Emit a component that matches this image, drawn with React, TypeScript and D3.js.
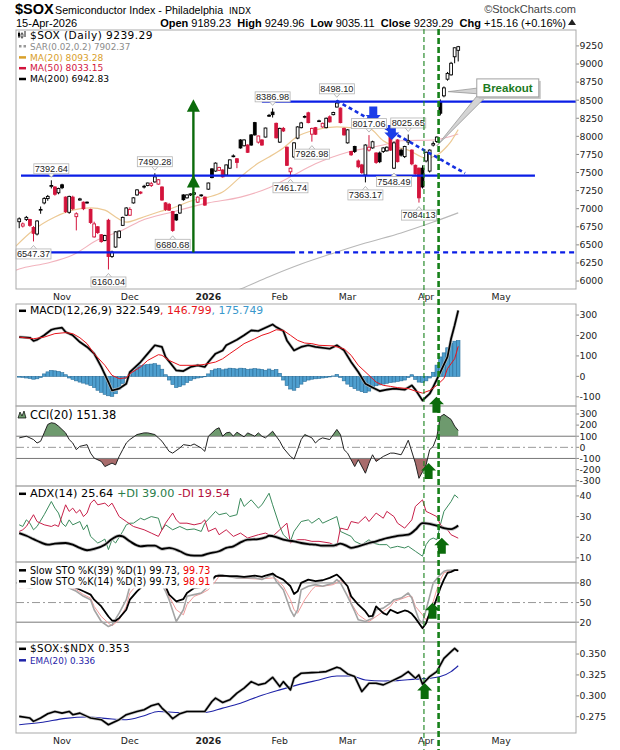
import React, { useEffect, useRef } from "react";
import * as d3 from "d3";

type Pt = [number, number];

// bar 0 = 3-Nov-2025, negative bars are the last days of October
const firstBar = -12;

// daily candles: [open, high, low, close]
const ohlc: [number, number, number, number][] = [
  [6820, 6880, 6730, 6860], [6760, 6810, 6740, 6790], [6850, 6900, 6830, 6880], [6850, 6860, 6750, 6770],
  [6740, 6760, 6547.37, 6660], [6650, 6840, 6630, 6830], [6980, 7030, 6930, 6990], [7080, 7160, 7060, 7140],
  [7140, 7190, 7110, 7170], [7310, 7392.64, 7280, 7320], [7300, 7310, 7180, 7200], [7220, 7290, 7200, 7280],
  [7330, 7345, 7270, 7290], [7160, 7170, 6940, 6960], [6950, 7180, 6930, 7170], [7160, 7180, 6980, 7000],
  [6890, 6950, 6700, 6930], [7120, 7150, 7110, 7135], [7090, 7100, 6980, 7000], [7080, 7100, 7070, 7090],
  [6990, 7000, 6790, 6810], [6610, 6820, 6600, 6790], [6750, 6760, 6650, 6670], [6640, 6650, 6530, 6545],
  [6560, 6640, 6550, 6630], [6840, 6860, 6160.04, 6340], [6340, 6420, 6320, 6400], [6470, 6690, 6460, 6680],
  [6600, 6700, 6590, 6690], [6770, 6890, 6760, 6880], [6910, 7020, 6900, 7010], [6910, 7020, 6900, 6990],
  [7080, 7160, 7070, 7150], [7190, 7270, 7180, 7260], [7230, 7240, 7200, 7215], [7300, 7330, 7280, 7310],
  [7320, 7360, 7310, 7355], [7320, 7370, 7300, 7345], [7370, 7490.28, 7360, 7440], [7340, 7410, 7330, 7400],
  [7300, 7310, 7110, 7120], [7080, 7090, 6970, 6990], [7060, 7080, 6970, 6980], [6960, 6970, 6680.68, 6700],
  [6920, 6930, 6830, 6845], [6940, 7060, 6930, 7050], [7190, 7200, 7110, 7125], [7150, 7200, 7140, 7190],
  [7190, 7215, 7175, 7205], [7200, 7230, 7190, 7220], [7090, 7170, 7080, 7160], [7180, 7200, 7165, 7190],
  [7160, 7170, 7040, 7050], [7270, 7360, 7260, 7355], [7550, 7560, 7420, 7430], [7520, 7640, 7510, 7630],
  [7530, 7580, 7520, 7570], [7535, 7545, 7430, 7440], [7465, 7610, 7460, 7605], [7560, 7680, 7550, 7675],
  [7720, 7750, 7710, 7730], [7690, 7700, 7560, 7640], [7950, 7960, 7830, 7840], [7870, 7960, 7860, 7950],
  [7880, 7890, 7770, 7780], [8020, 8030, 7870, 7880], [8190, 8200, 8010, 8020], [7920, 8010, 7900, 8005],
  [7950, 7960, 7870, 7880], [7990, 8120, 7985, 8115], [8290, 8310, 8270, 8285], [8335, 8386.98, 8260, 8300],
  [8180, 8190, 7970, 7980], [7920, 8120, 7910, 8110], [8110, 8130, 8060, 8075], [7850, 7860, 7590, 7600],
  [7510, 7570, 7461.74, 7560], [7715, 7920, 7700, 7910], [7975, 8140, 7960, 8130], [8120, 8200, 8110, 8185],
  [8270, 8290, 8250, 8275], [8325, 8340, 8180, 8190], [8030, 8120, 7926.98, 8110], [8120, 8130, 8020, 8030],
  [8210, 8230, 8200, 8215], [8130, 8190, 8120, 8180], [8120, 8260, 8110, 8250], [8270, 8290, 8190, 8200],
  [8300, 8340, 8290, 8330], [8405, 8498.1, 8400, 8460], [8390, 8400, 8180, 8190], [8110, 8120, 8010, 8020],
  [7910, 8100, 7900, 8090], [7790, 7800, 7730, 7745], [7860, 7870, 7770, 7790], [7660, 7680, 7560, 7580],
  [7605, 7620, 7480, 7500], [7465, 7890, 7363.17, 7880], [7810, 8017.06, 7790, 7850], [7840, 7940, 7830, 7925],
  [7770, 7780, 7620, 7640], [7770, 7790, 7630, 7650], [7790, 7850, 7770, 7840], [7800, 7860, 7790, 7850],
  [8010, 8020, 7800, 7810], [7560, 7930, 7548.49, 7910], [7950, 7960, 7640, 7650], [7810, 7830, 7720, 7740],
  [7720, 7870, 7700, 7860], [7920, 8025.65, 7880, 7940], [7810, 7820, 7600, 7620], [7600, 7610, 7470, 7480],
  [7560, 7570, 7084.13, 7150], [7560, 7600, 7280, 7300], [7660, 7790, 7640, 7780], [7520, 7820, 7500, 7810],
  [7880, 7930, 7860, 7900], [7930, 8000, 7910, 7990], [8480, 8510, 8290, 8320], [8560, 8690, 8540, 8670],
  [8790, 8890, 8770, 8870], [8850, 9030, 8840, 9010], [9100, 9230, 9010, 9224.13],
  [9189.23, 9249.96, 9035.11, 9239.29],
];

const sarValue = 7902.37;

// moving averages, [bar, value]
const ma20: Pt[] = [
  [-13, 6480], [-8, 6705], [-2, 6885], [3, 6980], [8, 7010], [12, 6980], [15, 6885], [18, 6815], [22, 6870],
  [27, 6955], [31, 7010], [37, 7120], [41, 7160], [45, 7230], [50, 7440], [55, 7630], [58, 7715], [62, 7840],
  [66, 8000], [71, 8090], [77, 8130], [81, 8120], [86, 8110], [90, 7940], [94, 7850], [97, 7810], [102, 7700],
  [105, 7740], [108, 7870], [109, 7930], [110, 8010], [111, 8093.28],
];
const ma50: Pt[] = [
  [-13, 6150], [-11, 6180], [-4, 6250], [3, 6360], [10, 6570], [17, 6705], [22, 6830], [31, 6955], [41, 7080],
  [50, 7160], [58, 7290], [64, 7440], [71, 7620], [80, 7780], [90, 7880], [95, 7940], [104, 7950], [111, 8033.15],
];
const ma200: Pt[] = [
  [48, 5850], [50, 5890], [58, 6060], [67, 6235], [76, 6385], [85, 6525], [95, 6665], [104, 6815], [111, 6942.83],
];

// MACD(12,26,9)
const macdLine: Pt[] = [
  [-12, 192], [-9, 189], [-8, 173], [-7, 179], [-5, 201], [-3, 228], [-2, 233], [0, 238], [1, 217], [3, 201],
  [5, 168], [7, 144], [9, 111], [11, 46], [13, -28], [14, -69], [16, -60], [18, -36], [19, 21], [22, 70],
  [24, 111], [26, 152], [28, 144], [29, 95], [32, 29], [34, 26], [36, 46], [38, 54], [40, 46], [41, 70],
  [43, 111], [45, 127], [46, 152], [49, 179], [51, 201], [53, 225], [55, 222], [57, 238], [59, 254], [60, 241],
  [62, 222], [63, 176], [65, 127], [67, 144], [69, 152], [71, 144], [75, 135], [77, 152], [79, 127], [81, 70],
  [83, 21], [85, -36], [87, -55], [89, -72], [91, -65], [93, -60], [96, -65], [98, -44], [99, -65], [101, -118],
  [103, -85], [104, -52], [106, 21], [108, 95], [109, 184], [110, 250], [111, 322.549],
];
const macdSignal: Pt[] = [
  [-12, 192], [-8, 184], [-5, 192], [-2, 209], [1, 214], [3, 209], [5, 189], [7, 160], [9, 111], [12, 54],
  [14, 5], [16, -11], [18, -7], [19, 13], [22, 46], [24, 78], [27, 106], [28, 103], [30, 78], [33, 54],
  [35, 54], [38, 54], [40, 59], [43, 70], [45, 86], [47, 111], [49, 135], [51, 160], [54, 184], [56, 201],
  [58, 212], [60, 228], [62, 225], [64, 201], [66, 176], [68, 163], [70, 160], [72, 152], [76, 149], [79, 135],
  [81, 103], [83, 54], [86, 5], [88, -28], [90, -44], [92, -49], [94, -55], [97, -60], [99, -72], [101, -82],
  [103, -69], [105, -44], [107, -11], [108, 38], [110, 86], [111, 146.799],
];
const macdHist: number[] = [
  -4, -5, -8, -10, -14, -12, -6, 12, 22, 29, 27, 24, 18, 8, -8, -15, -22, -28, -33, -38, -45, -55, -68, -78,
  -88, -95, -98, -85, -62, -35, -10, 10, 28, 45, 52, 56, 58, 60, 62, 55, 35, 8, -18, -40, -55, -50, -42, -30,
  -20, -12, -8, -5, -2, 12, 28, 36, 38, 32, 36, 40, 38, 36, 40, 38, 34, 36, 38, 36, 34, 30, 36, 30, 34, 15,
  -18, -45, -62, -68, -55, -38, -25, -18, -14, -12, -10, -8, -6, -3, 2, 10, -5, -22, -38, -50, -60, -68,
  -75, -80, -72, -58, -46, -42, -38, -34, -30, -28, -25, -22, -18, -6, 8, -15, -28, -30, -22, -8, 20, 55,
  95, 115, 140, 160, 172, 175.749,
];

// CCI(20)
const cci: Pt[] = [
  [-12, 85], [-10, 100], [-9, 85], [-8, 70], [-7, 39], [-6, 55], [-5, 130], [-4, 206], [-3, 221], [-2, 215],
  [-1, 191], [1, 130], [2, 70], [3, 39], [4, -21], [5, 9], [7, 24], [8, -52], [9, -97], [11, -127], [12, -173],
  [14, -142], [15, -158], [16, -82], [17, -21], [18, 39], [19, 70], [21, 115], [23, 130], [24, 130], [26, 115],
  [27, 85], [28, 55], [29, 9], [30, -36], [31, -52], [33, -6], [34, 24], [36, 15], [37, 30], [39, -6], [40, -36],
  [41, 100], [43, 161], [44, 176], [45, 100], [46, 130], [47, 136], [48, 100], [49, 136], [51, 94], [52, 130],
  [54, 100], [55, 130], [56, 100], [57, 85], [59, 145], [60, 100], [61, 55], [62, -6], [64, -82], [65, -106],
  [66, -21], [67, 70], [68, 115], [70, 85], [71, 39], [72, 70], [73, 85], [75, 70], [77, 161], [78, 115],
  [79, -21], [80, -52], [82, -173], [83, -112], [85, -233], [86, -142], [87, -67], [88, -127], [90, -82],
  [92, -52], [93, -52], [95, -67], [96, -6], [97, 64], [99, -142], [100, -279], [101, -220], [102, -158],
  [103, -21], [104, 9], [105, 94], [106, 276], [107, 297], [109, 251], [110, 191], [111, 151.38],
];

// ADX(14), +DI, -DI
const adx: Pt[] = [
  [-12, 22.0], [-10, 20.7], [-8, 19.1], [-6, 17.5], [-4, 16.4], [-2, 16.9], [1, 17.2], [3, 16.4], [5, 14.8],
  [7, 13.7], [9, 14.3], [12, 16.4], [14, 19.1], [16, 20.7], [17, 20.4], [19, 18.0], [22, 15.6], [24, 15.9],
  [26, 15.9], [28, 14.3], [30, 14.8], [33, 13.2], [35, 11.6], [37, 11.1], [39, 11.1], [41, 12.1], [44, 13.2],
  [46, 14.8], [48, 15.6], [50, 17.5], [52, 18.8], [55, 19.1], [57, 19.9], [58, 20.7], [60, 20.1], [62, 18.8],
  [65, 18.0], [67, 17.2], [69, 16.7], [71, 16.4], [73, 15.9], [76, 15.9], [78, 16.9], [80, 15.6], [81, 14.8],
  [83, 15.6], [86, 17.2], [88, 18.0], [90, 19.1], [92, 19.9], [94, 20.7], [97, 21.2], [99, 23.6], [101, 26.8],
  [103, 26.5], [105, 25.6], [107, 24.4], [109, 23.9], [111, 25.64],
];
const plusDI: Pt[] = [
  [-12, 26.0], [-11, 25.2], [-10, 28.4], [-9, 26.8], [-8, 23.6], [-7, 25.2], [-5, 30.9], [-3, 37.3], [-2, 34.1],
  [-1, 31.7], [0, 26.8], [1, 25.2], [2, 28.4], [3, 26.0], [5, 27.6], [6, 23.6], [7, 26.0], [8, 20.4], [10, 17.2],
  [11, 18.0], [12, 19.1], [13, 14.0], [14, 18.8], [15, 17.2], [17, 22.8], [18, 26.0], [19, 26.8], [20, 26.8],
  [22, 29.2], [23, 28.4], [25, 30.0], [27, 29.2], [28, 23.6], [29, 26.0], [31, 23.6], [33, 25.2], [35, 23.6],
  [37, 24.0], [39, 22.8], [40, 26.8], [43, 32.5], [44, 30.9], [46, 31.7], [47, 30.0], [49, 30.9], [50, 38.9],
  [51, 34.9], [53, 38.1], [55, 34.1], [56, 35.7], [58, 41.3], [59, 35.7], [61, 25.2], [62, 21.2], [64, 18.0],
  [65, 22.8], [67, 27.6], [69, 28.4], [70, 26.8], [72, 29.2], [73, 26.8], [75, 28.4], [77, 30.0], [78, 22.8],
  [79, 22.0], [81, 20.4], [82, 18.0], [84, 16.4], [86, 18.8], [87, 17.2], [89, 16.4], [91, 16.4], [92, 14.8],
  [94, 15.6], [96, 14.8], [97, 15.6], [99, 13.2], [101, 10.8], [102, 16.4], [103, 18.8], [104, 19.6], [105, 18.8],
  [106, 26.0], [107, 32.5], [109, 37.3], [110, 40.5], [111, 39.0],
];
const minusDI: Pt[] = [
  [-12, 22.8], [-11, 23.6], [-10, 25.2], [-8, 30.9], [-7, 27.6], [-5, 26.0], [-3, 25.2], [-2, 26.0], [-1, 25.2],
  [1, 35.7], [2, 32.5], [3, 34.1], [4, 31.7], [5, 33.3], [6, 30.0], [7, 31.7], [8, 36.5], [9, 38.1], [10, 35.7],
  [12, 36.5], [13, 34.9], [14, 36.5], [15, 33.3], [16, 30.0], [18, 27.6], [20, 25.2], [23, 23.6], [25, 22.0],
  [27, 20.4], [29, 26.8], [31, 31.7], [32, 28.4], [33, 26.8], [35, 26.8], [37, 26.0], [39, 26.8], [40, 28.4],
  [41, 22.8], [43, 24.4], [44, 21.2], [46, 23.6], [48, 20.4], [50, 22.0], [52, 19.6], [55, 21.2], [57, 22.0],
  [59, 20.4], [61, 23.6], [63, 26.8], [64, 17.2], [66, 18.8], [68, 18.8], [70, 18.0], [72, 18.0], [75, 17.2],
  [77, 15.6], [78, 24.4], [80, 23.6], [81, 27.6], [83, 26.8], [85, 30.0], [86, 27.6], [88, 31.7], [90, 29.2],
  [91, 32.5], [93, 30.0], [94, 26.8], [96, 24.4], [98, 28.4], [99, 34.9], [101, 38.1], [102, 32.5], [103, 31.7],
  [105, 30.0], [106, 26.0], [108, 23.6], [109, 21.2], [111, 19.54],
];

// Slow stochastics
const sto39: Pt[] = [
  [-12, 85.1], [-6, 87.7], [-1, 85.1], [2, 77.4], [4, 72.3], [6, 67.2], [8, 62.1], [9, 54.4], [11, 44.1],
  [13, 28.7], [14, 22.6], [15, 22.1], [16, 26.2], [18, 39.0], [19, 54.4], [21, 67.2], [23, 77.4], [25, 85.1],
  [27, 87.7], [29, 74.9], [30, 62.1], [32, 51.8], [34, 55.4], [35, 64.6], [37, 72.3], [39, 73.8], [40, 75.9],
  [41, 81.0], [43, 90.3], [45, 91.3], [47, 90.3], [49, 90.3], [51, 89.2], [54, 91.3], [56, 89.2], [57, 91.3],
  [59, 94.4], [60, 90.3], [62, 85.1], [64, 74.9], [65, 63.1], [66, 67.2], [67, 80.0], [69, 85.1], [71, 82.6],
  [73, 84.1], [75, 87.7], [77, 92.8], [78, 87.7], [80, 74.9], [81, 59.5], [83, 46.7], [85, 36.4], [86, 28.7],
  [87, 29.7], [88, 44.1], [90, 33.8], [91, 31.3], [92, 39.0], [94, 33.8], [96, 37.9], [97, 36.4], [98, 32.8],
  [99, 26.2], [101, 10.8], [102, 18.5], [103, 33.8], [104, 41.5], [105, 56.9], [106, 72.3], [107, 85.1],
  [108, 95.4], [109, 96.9], [110, 99.5], [111, 99.73],
];
const sto14K: Pt[] = [
  [-12, 74.9], [-9, 72.3], [-7, 74.9], [-5, 85.1], [-3, 87.7], [-1, 82.6], [2, 72.3], [4, 67.2], [6, 59.5],
  [8, 54.4], [9, 39.0], [11, 21.0], [13, 13.3], [14, 15.9], [16, 33.8], [18, 54.4], [19, 74.9], [21, 87.7],
  [24, 92.8], [27, 87.7], [29, 67.2], [30, 54.4], [32, 21.0], [34, 39.0], [35, 59.5], [37, 62.1], [39, 64.6],
  [41, 74.9], [43, 90.3], [44, 92.8], [46, 90.3], [49, 87.7], [51, 87.7], [54, 87.7], [56, 85.1], [57, 87.7],
  [59, 92.8], [60, 82.6], [62, 69.7], [64, 39.0], [65, 28.7], [66, 39.0], [67, 69.7], [69, 74.9], [71, 77.4],
  [73, 74.9], [76, 80.0], [77, 85.1], [78, 80.0], [80, 59.5], [82, 36.4], [83, 23.6], [85, 21.0], [87, 26.2],
  [88, 39.0], [90, 41.5], [92, 49.2], [93, 54.4], [95, 56.9], [97, 64.6], [98, 56.9], [99, 39.0], [100, 23.6],
  [101, 18.5], [102, 39.0], [103, 59.5], [104, 80.0], [106, 92.8], [107, 97.9], [108, 99.5], [111, 99.73],
];
const sto14D: Pt[] = [
  [-12, 72.3], [-8, 73.8], [-5, 80.0], [-1, 81.0], [2, 74.9], [4, 69.7], [6, 62.1], [8, 56.9], [9, 44.1],
  [11, 28.7], [13, 18.5], [14, 14.4], [16, 23.6], [18, 44.1], [19, 64.6], [21, 77.4], [24, 87.7], [27, 87.7],
  [29, 72.3], [30, 59.5], [32, 39.0], [34, 31.3], [35, 46.7], [37, 59.5], [39, 63.6], [41, 69.7], [43, 82.6],
  [44, 90.3], [46, 90.3], [49, 87.7], [54, 86.2], [56, 86.2], [59, 87.7], [60, 86.2], [62, 74.9], [64, 54.4],
  [65, 39.0], [66, 33.8], [68, 54.4], [70, 69.7], [71, 74.9], [73, 74.9], [76, 77.4], [78, 84.1], [80, 74.9],
  [81, 49.2], [83, 31.3], [85, 23.6], [86, 21.0], [88, 28.7], [90, 36.4], [92, 44.1], [93, 51.8], [95, 55.4],
  [97, 59.5], [98, 59.5], [99, 44.1], [101, 31.3], [102, 23.6], [103, 33.8], [104, 51.8], [105, 69.7],
  [106, 85.1], [107, 95.4], [109, 99.0], [111, 98.91],
];

// $SOX:$NDX ratio and its EMA(20)
const ratio: Pt[] = [
  [-12, 0.2754], [-9, 0.2734], [-8, 0.2694], [-6, 0.2734], [-4, 0.2786], [-2, 0.2813], [0, 0.2793], [2, 0.2813],
  [3, 0.2774], [5, 0.2793], [7, 0.2754], [8, 0.2734], [11, 0.2714], [13, 0.2654], [14, 0.2674], [16, 0.2714],
  [18, 0.2774], [21, 0.2813], [23, 0.2833], [25, 0.2881], [27, 0.2905], [28, 0.2853], [30, 0.2774], [31, 0.2726],
  [33, 0.2786], [35, 0.2813], [37, 0.2813], [40, 0.2813], [42, 0.2932], [43, 0.2972], [45, 0.292], [47, 0.2952],
  [49, 0.3032], [51, 0.3091], [53, 0.317], [55, 0.3131], [57, 0.3151], [59, 0.3222], [61, 0.3111], [62, 0.317],
  [64, 0.3071], [65, 0.321], [67, 0.327], [70, 0.3278], [72, 0.3282], [74, 0.329], [77, 0.3341], [78, 0.3329],
  [80, 0.3262], [82, 0.323], [84, 0.3051], [86, 0.3151], [88, 0.3151], [90, 0.3131], [92, 0.317], [94, 0.321],
  [95, 0.323], [97, 0.329], [99, 0.321], [100, 0.325], [101, 0.314], [103, 0.323], [105, 0.329], [106, 0.3369],
  [107, 0.3448], [109, 0.3528], [110, 0.3567], [111, 0.353],
];
const ratioEma: Pt[] = [
  [-12, 0.2654], [-6, 0.268], [1, 0.273], [7, 0.2746], [14, 0.2722], [18, 0.2714], [23, 0.2762], [27, 0.2813],
  [33, 0.28], [40, 0.28], [45, 0.2853], [50, 0.2912], [55, 0.2992], [61, 0.3071], [66, 0.3131], [72, 0.319],
  [77, 0.3238], [81, 0.3238], [85, 0.319], [90, 0.3178], [94, 0.3182], [99, 0.32], [103, 0.321], [106, 0.323],
  [109, 0.329], [111, 0.336],
];

// x axis
const monthNames = ["Nov", "Dec", "2026", "Feb", "Mar", "Apr", "May"];
const monthBars = [0, 19, 41, 61, 80, 102, 123];

// y axis tick labels
const priceTicks = [6000, 6250, 6500, 6750, 7000, 7250, 7500, 7750, 8000, 8250, 8500, 8750, 9000, 9250];
const macdTicks = [-100, 0, 100, 200, 300];
const cciTicks = [-300, -200, -100, 0, 100, 200, 300];
const adxTicks = [10, 20, 30, 40];
const stoTicks = [20, 50, 80];
const ratioTicks = [0.275, 0.3, 0.325, 0.35];

// swing high / low call-outs
const swingLabels = [
  { bar: -3, value: 7392.64, side: "high" },
  { bar: 26, value: 7490.28, side: "high" },
  { bar: 59, value: 8386.98, side: "high" },
  { bar: 77, value: 8498.1, side: "high" },
  { bar: 86, value: 8017.06, side: "high" },
  { bar: 97, value: 8025.65, side: "high" },
  { bar: -8, value: 6547.37, side: "low" },
  { bar: 13, value: 6160.04, side: "low" },
  { bar: 31, value: 6680.68, side: "low" },
  { bar: 64, value: 7461.74, side: "low" },
  { bar: 70, value: 7926.98, side: "low" },
  { bar: 85, value: 7363.17, side: "low" },
  { bar: 93, value: 7548.49, side: "low" },
  { bar: 100, value: 7084.13, side: "low" },
];

// hand drawn annotations, in bar / price units
const levelLines = [
  { value: 8480, from: 56, to: 144, dashed: false },
  { value: 7457, from: -11.5, to: 132.5, dashed: false },
  { value: 6396, from: -13, to: 63.9, dashed: false },
  { value: 6396, from: 63.9, to: 144, dashed: true },
];
const trendLine: Pt[] = [[76.9, 8494], [112.9, 7490]];
const blueArrows = [
  { bar: 87.2, top: 8411, tip: 8182 },
  { bar: 92.4, top: 8158, tip: 7951 },
];
const moveArrow = { bar: 36.8, base: 6396, mid: 7467, tip: 8513 };
const signalBars = [101.4, 105.5];
const breakoutBox = { bar: 116.2, value: 8794 };
const breakoutTips: Pt[] = [[108.2, 8618], [105, 7868]];

const LEFT = 16;
const RIGHT = 576;
const RED = "#d3143c";
const GREEN = "#0b6b0b";
const BLUE = "#0a1ee6";
const FONT = "DejaVu Sans, Verdana, sans-serif";
const ARIAL = "Liberation Sans, Arial, sans-serif";

const App = () => {
  const ref: any = useRef();

  useEffect(() => {
    document.body.style.margin = "0";
    const svg = d3.select(ref.current);
    svg.selectAll("*").remove();
    const defs = svg.append("defs");

    const x = d3.scaleLinear().domain([-12.9, 144]).range([LEFT, RIGHT]);

    const makePanel = (id: string, top: number, bottom: number, domain: number[]) => {
      const y = d3.scaleLinear().domain(domain).range([bottom, top]);
      defs
        .append("clipPath")
        .attr("id", `clip-${id}`)
        .append("rect")
        .attr("x", LEFT)
        .attr("y", top)
        .attr("width", RIGHT - LEFT)
        .attr("height", bottom - top);
      const g = svg.append("g");
      const plot = g.append("g").attr("clip-path", `url(#clip-${id})`);
      return { y, g, plot, top, bottom };
    };

    const line = (y: any, curve: any = d3.curveLinear) =>
      d3
        .line<Pt>()
        .x((d) => x(d[0]))
        .y((d) => y(d[1]))
        .curve(curve);

    const drawLine = (g: any, data: Pt[], y: any, color: string, width: number, curve?: any) =>
      g
        .append("path")
        .datum(data)
        .attr("d", line(y, curve))
        .attr("fill", "none")
        .attr("stroke", color)
        .attr("stroke-width", width)
        .attr("stroke-linejoin", "round");

    const yTicks = (p: any, ticks: number[], fmt: (v: number) => string) => {
      ticks.forEach((t) => {
        p.g
          .append("line")
          .attr("x1", RIGHT)
          .attr("x2", RIGHT + 3)
          .attr("y1", p.y(t))
          .attr("y2", p.y(t))
          .attr("stroke", "#888");
        p.g
          .append("text")
          .attr("x", RIGHT + 3.5)
          .attr("y", p.y(t))
          .attr("dy", "0.36em")
          .attr("font-family", FONT)
          .attr("font-size", 9.3)
          .attr("fill", "#222")
          .text(fmt(t));
      });
    };

    const border = (p: any) =>
      p.g
        .append("rect")
        .attr("x", LEFT)
        .attr("y", p.top)
        .attr("width", RIGHT - LEFT)
        .attr("height", p.bottom - p.top)
        .attr("fill", "none")
        .attr("stroke", "#a9a9a9");

    // legend row: parts of [text, color]
    const legend = (g: any, yBase: number, parts: [string, string][], icon?: string, size = 11, spacing = 0) => {
      const row = g.append("g");
      if (icon) {
        row
          .append("line")
          .attr("x1", 19)
          .attr("x2", 26)
          .attr("y1", yBase - 3.2)
          .attr("y2", yBase - 3.2)
          .attr("stroke", icon)
          .attr("stroke-width", 2.5);
      }
      const t = row
        .append("text")
        .attr("x", 30)
        .attr("y", yBase)
        .attr("font-family", FONT)
        .attr("font-size", size)
        .attr("letter-spacing", spacing)
        .style("white-space", "pre");
      parts.forEach(([s, c]) => t.append("tspan").attr("fill", c).text(s));
      return row;
    };

    const upArrow = (g: any, cx: number, tipY: number) => {
      g.append("path")
        .attr(
          "d",
          `M${cx},${tipY} L${cx + 7.5},${tipY + 7.5} L${cx + 4},${tipY + 7.5} L${cx + 4},${tipY + 16} ` +
            `L${cx - 4},${tipY + 16} L${cx - 4},${tipY + 7.5} L${cx - 7.5},${tipY + 7.5} Z`
        )
        .attr("fill", GREEN);
    };

    const last = ohlc[ohlc.length - 1];
    const prevClose = ohlc[ohlc.length - 2][3];
    const chg = last[3] - prevClose;

    // ---------- header ----------
    svg
      .append("text")
      .attr("x", 15)
      .attr("y", 14)
      .attr("font-family", ARIAL)
      .attr("font-weight", "bold")
      .attr("font-size", 14.5)
      .text("$SOX");
    svg
      .append("text")
      .attr("x", 55)
      .attr("y", 14)
      .attr("font-family", ARIAL)
      .attr("font-size", 10.7)
      .text("Semiconductor Index - Philadelphia");
    svg
      .append("text")
      .attr("x", 229)
      .attr("y", 14)
      .attr("font-family", FONT)
      .attr("font-size", 8.8)
      .text("INDX");
    svg
      .append("text")
      .attr("x", RIGHT)
      .attr("y", 13)
      .attr("text-anchor", "end")
      .attr("font-family", ARIAL)
      .attr("font-size", 11)
      .attr("fill", "#444")
      .text("\u00a9StockCharts.com");
    svg
      .append("text")
      .attr("x", 16)
      .attr("y", 26.5)
      .attr("font-family", ARIAL)
      .attr("font-size", 11)
      .text("15-Apr-2026");
    const quote = svg
      .append("text")
      .attr("x", 566)
      .attr("y", 26.5)
      .attr("text-anchor", "end")
      .attr("font-family", ARIAL)
      .attr("font-size", 11)
      .style("white-space", "pre");
    const quoteParts: [string, boolean][] = [
      ["Open ", true],
      [`${last[0].toFixed(2)}  `, false],
      ["High ", true],
      [`${last[1].toFixed(2)}  `, false],
      ["Low ", true],
      [`${last[2].toFixed(2)}  `, false],
      ["Close ", true],
      [`${last[3].toFixed(2)}  `, false],
      ["Chg ", true],
      [`+${chg.toFixed(2)} (+${((chg / prevClose) * 100).toFixed(2)}%)`, false],
    ];
    quoteParts.forEach(([s, b]) => quote.append("tspan").attr("font-weight", b ? "bold" : "normal").text(s));
    svg.append("path").attr("d", "M568,25 L572,19 L576,25 Z").attr("fill", "#222");

    // ---------- price panel ----------
    const price = makePanel("price", 30, 289, [5890, 9470]);
    const yP = price.y;
    price.g.insert("rect", ":first-child").attr("x", LEFT).attr("y", 30).attr("width", RIGHT - LEFT).attr("height", 259).attr("fill", "#fff");

    drawLine(price.plot, ma200, yP, "#b8b8b8", 1.1, d3.curveMonotoneX);
    drawLine(price.plot, ma50, yP, "#f2b3bd", 1.1, d3.curveMonotoneX);
    drawLine(price.plot, ma20, yP, "#ecc994", 1.2, d3.curveMonotoneX);

    ohlc.forEach(([o, h, l, c], k) => {
      const bar = firstBar + k;
      const prev = k > 0 ? ohlc[k - 1][3] : o;
      const color = c >= prev ? "#000" : RED;
      const cx = x(bar);
      price.plot
        .append("line")
        .attr("x1", cx)
        .attr("x2", cx)
        .attr("y1", yP(h))
        .attr("y2", yP(l))
        .attr("stroke", color)
        .attr("stroke-width", 1);
      const top = yP(Math.max(o, c));
      const bot = yP(Math.min(o, c));
      price.plot
        .append("rect")
        .attr("x", cx - 1.4)
        .attr("y", top)
        .attr("width", 2.8)
        .attr("height", Math.max(0.8, bot - top))
        .attr("fill", c > o ? "#fff" : color)
        .attr("stroke", color)
        .attr("stroke-width", 0.9);
    });

    levelLines.forEach((d) => {
      price.plot
        .append("line")
        .attr("x1", x(d.from))
        .attr("x2", x(d.to))
        .attr("y1", yP(d.value))
        .attr("y2", yP(d.value))
        .attr("stroke", BLUE)
        .attr("stroke-width", 2.4)
        .attr("stroke-dasharray", d.dashed ? "5,4" : null);
    });
    drawLine(price.plot, trendLine, yP, "#1530e0", 2.6).attr("stroke-dasharray", "4,3");

    // measured move arrow
    const mx = x(moveArrow.bar);
    price.plot
      .append("line")
      .attr("x1", mx)
      .attr("x2", mx)
      .attr("y1", yP(moveArrow.base))
      .attr("y2", yP(moveArrow.tip) + 10)
      .attr("stroke", GREEN)
      .attr("stroke-width", 2.4);
    [moveArrow.tip, moveArrow.mid].forEach((v) => {
      const ty = yP(v);
      price.plot
        .append("path")
        .attr("d", `M${mx},${ty} L${mx + 6.5},${ty + 12.5} L${mx - 6.5},${ty + 12.5} Z`)
        .attr("fill", GREEN);
    });

    blueArrows.forEach((a) => {
      const ax = x(a.bar);
      const t = yP(a.top);
      const tip = yP(a.tip);
      const mid = (t + tip) / 2;
      price.plot
        .append("path")
        .attr(
          "d",
          `M${ax - 4},${t} L${ax + 4},${t} L${ax + 4},${mid} L${ax + 7.5},${mid} L${ax},${tip} ` +
            `L${ax - 7.5},${mid} L${ax - 4},${mid} Z`
        )
        .attr("fill", "#1c3ee8");
    });

    // swing labels
    swingLabels.forEach((d) => {
      const cx = x(d.bar);
      const vy = yP(d.value);
      const high = d.side === "high";
      const boxTop = high ? vy - 16.5 : vy + 7.5;
      const lab = price.g.append("g");
      const notchY = high ? boxTop + 10 : boxTop;
      lab
        .append("path")
        .attr("d", high ? `M${cx - 3},${notchY} L${cx},${notchY + 3.5} L${cx + 3},${notchY}` : `M${cx - 3},${notchY} L${cx},${notchY - 3.5} L${cx + 3},${notchY}`)
        .attr("fill", "#fff")
        .attr("stroke", "#a8a8a8")
        .attr("stroke-width", 0.8);
      lab
        .append("rect")
        .attr("x", cx - 17.5)
        .attr("y", boxTop)
        .attr("width", 35)
        .attr("height", 10)
        .attr("fill", "#fff")
        .attr("stroke", "#b4b4b4")
        .attr("stroke-width", 0.8);
      lab
        .append("text")
        .attr("x", cx)
        .attr("y", boxTop + 8.3)
        .attr("text-anchor", "middle")
        .attr("font-family", ARIAL)
        .attr("font-size", 9.2)
        .attr("fill", "#222")
        .text(d.value.toFixed(2));
    });

    // breakout call-out
    const bx = x(breakoutBox.bar);
    const by = yP(breakoutBox.value);
    const [t1, t2] = breakoutTips;
    price.g
      .append("path")
      .attr("d", `M${x(t1[0])},${yP(t1[1])} L${bx + 2},${by + 9} L${bx + 2},${by + 15} Z`)
      .attr("fill", "#d4d4d4")
      .attr("stroke", "#8c8c8c")
      .attr("stroke-width", 0.7);
    price.g
      .append("path")
      .attr("d", `M${x(t2[0])},${yP(t2[1])} L${bx + 1},${by + 16} L${bx + 10},${by + 17} Z`)
      .attr("fill", "#d4d4d4")
      .attr("stroke", "#8c8c8c")
      .attr("stroke-width", 0.7);
    price.g.append("rect").attr("x", bx + 2).attr("y", by + 2).attr("width", 62).attr("height", 18).attr("fill", "#c4c4c4");
    price.g
      .append("rect")
      .attr("x", bx)
      .attr("y", by)
      .attr("width", 62)
      .attr("height", 18)
      .attr("fill", "#fff")
      .attr("stroke", "#a0a0a0");
    price.g
      .append("text")
      .attr("x", bx + 31)
      .attr("y", by + 12.8)
      .attr("text-anchor", "middle")
      .attr("font-family", ARIAL)
      .attr("font-weight", "bold")
      .attr("font-size", 11.5)
      .attr("fill", "#1d7a1d")
      .text("Breakout");

    // price legend
    const pl = price.g.append("g");
    pl.append("path").attr("d", "M19,31.5 L19,38 M22,32.5 L22,38.5 M25,31 L25,37").attr("stroke", "#000").attr("stroke-width", 0.9);
    pl.append("rect").attr("x", 18).attr("y", 33).attr("width", 2).attr("height", 3.5).attr("fill", "#000");
    pl.append("rect").attr("x", 21).attr("y", 34).attr("width", 2).attr("height", 3).attr("fill", "#fff").attr("stroke", "#000").attr("stroke-width", 0.6);
    legend(pl, 38.5, [[`$SOX (Daily) ${last[3].toFixed(2)}`, "#000"]], undefined, 10.6, 0.45);
    pl.append("rect").attr("x", 19).attr("y", 45).attr("width", 2.5).attr("height", 2.5).attr("fill", "#999");
    pl.append("rect").attr("x", 23.5).attr("y", 45).attr("width", 2.5).attr("height", 2.5).attr("fill", "#999");
    legend(pl, 49.8, [[`SAR(0.02,0.2) ${sarValue.toFixed(2)}`, "#8c8c8c"]], undefined, 8.8);
    legend(pl, 60.6, [[`MA(20) ${ma20[ma20.length - 1][1].toFixed(2)}`, "#d9a02a"]], "#d9a02a", 9.1);
    legend(pl, 71.4, [[`MA(50) ${ma50[ma50.length - 1][1].toFixed(2)}`, "#d2143c"]], "#d2143c", 9.1);
    legend(pl, 82.2, [[`MA(200) ${ma200[ma200.length - 1][1].toFixed(2)}`, "#000"]], "#000", 9.1);

    yTicks(price, priceTicks, (v) => `${v}`);
    border(price);

    // month labels under price and ratio panels
    [299.5, 744].forEach((ly) => {
      monthNames.forEach((m, k) => {
        svg
          .append("text")
          .attr("x", x(monthBars[k]))
          .attr("y", ly)
          .attr("text-anchor", "middle")
          .attr("font-family", FONT)
          .attr("font-size", 9.3)
          .attr("font-weight", m === "2026" ? "bold" : "normal")
          .attr("fill", "#222")
          .text(m);
      });
    });

    // ---------- MACD ----------
    const macd = makePanel("macd", 304, 406, [-145, 354]);
    const bw = x(1) - x(0);
    macdHist.forEach((v, k) => {
      const hx = x(firstBar + k);
      macd.plot
        .append("rect")
        .attr("x", hx - bw / 2)
        .attr("y", Math.min(macd.y(v), macd.y(0)))
        .attr("width", bw)
        .attr("height", Math.abs(macd.y(v) - macd.y(0)))
        .attr("fill", "#4e9fcf")
        .attr("stroke", "#2b6f9b")
        .attr("stroke-width", 0.6);
    });
    drawLine(macd.plot, macdLine, macd.y, "#bbb", 3);
    drawLine(macd.plot, macdLine, macd.y, "#000", 1.7);
    drawLine(macd.plot, macdSignal, macd.y, "#e8141c", 1);
    legend(
      macd.g,
      314,
      [
        [`MACD(12,26,9) ${macdLine[macdLine.length - 1][1].toFixed(3)}`, "#000"],
        [`, ${macdSignal[macdSignal.length - 1][1].toFixed(3)}`, "#e8141c"],
        [`, ${macdHist[macdHist.length - 1].toFixed(3)}`, "#3a98cc"],
      ],
      "#000",
      10.8
    );
    yTicks(macd, macdTicks, (v) => `${v}`);
    border(macd);

    // ---------- CCI ----------
    const cc = makePanel("cci", 406, 486, [-348, 372]);
    defs.append("clipPath").attr("id", "cci-up").append("rect").attr("x", LEFT).attr("y", cc.top).attr("width", RIGHT - LEFT).attr("height", cc.y(100) - cc.top);
    defs.append("clipPath").attr("id", "cci-down").append("rect").attr("x", LEFT).attr("y", cc.y(-100)).attr("width", RIGHT - LEFT).attr("height", cc.bottom - cc.y(-100));
    const cciArea = (base: number) =>
      d3
        .area<Pt>()
        .x((d) => x(d[0]))
        .y0(cc.y(base))
        .y1((d) => cc.y(d[1]));
    cc.plot.append("path").datum(cci).attr("d", cciArea(100)).attr("fill", "#6e9a6e").attr("clip-path", "url(#cci-up)");
    cc.plot.append("path").datum(cci).attr("d", cciArea(-100)).attr("fill", "#a86c6c").attr("clip-path", "url(#cci-down)");
    [100, -100].forEach((v) =>
      cc.plot.append("line").attr("x1", LEFT).attr("x2", RIGHT).attr("y1", cc.y(v)).attr("y2", cc.y(v)).attr("stroke", "#777").attr("stroke-width", 1)
    );
    cc.plot
      .append("line")
      .attr("x1", LEFT)
      .attr("x2", RIGHT)
      .attr("y1", cc.y(0))
      .attr("y2", cc.y(0))
      .attr("stroke", "#999")
      .attr("stroke-dasharray", "8,3,2,3");
    drawLine(cc.plot, cci, cc.y, "#222", 1);
    cc.g.append("path").attr("d", "M18,418 L20,412 L22,416 L24,411 L26,418 Z").attr("fill", "#6e9a6e").attr("stroke", "#000").attr("stroke-width", 0.7);
    legend(cc.g, 418.5, [[`CCI(20) ${cci[cci.length - 1][1].toFixed(2)}`, "#000"]], undefined, 11.4);
    yTicks(cc, cciTicks, (v) => `${v}`);
    border(cc);

    // ---------- ADX ----------
    const ad = makePanel("adx", 486, 562, [8, 44.8]);
    drawLine(ad.plot, plusDI, ad.y, "#3b8a5c", 1);
    drawLine(ad.plot, minusDI, ad.y, "#c8204a", 1);
    drawLine(ad.plot, adx, ad.y, "#bdbdbd", 3.4, d3.curveMonotoneX);
    drawLine(ad.plot, adx, ad.y, "#000", 1.8, d3.curveMonotoneX);
    legend(
      ad.g,
      497,
      [
        [`ADX(14) ${adx[adx.length - 1][1].toFixed(2)} `, "#000"],
        [`+DI ${plusDI[plusDI.length - 1][1].toFixed(2)} `, "#2a7d4a"],
        [`-DI ${minusDI[minusDI.length - 1][1].toFixed(2)}`, "#b3123e"],
      ],
      "#000",
      11.3
    );
    yTicks(ad, adxTicks, (v) => `${v}`);
    border(ad);

    // ---------- Slow stochastics ----------
    const st = makePanel("sto", 562, 642, [-10.3, 112]);
    [80, 20].forEach((v) =>
      st.plot.append("line").attr("x1", LEFT).attr("x2", RIGHT).attr("y1", st.y(v)).attr("y2", st.y(v)).attr("stroke", "#777")
    );
    st.plot
      .append("line")
      .attr("x1", LEFT)
      .attr("x2", RIGHT)
      .attr("y1", st.y(50))
      .attr("y2", st.y(50))
      .attr("stroke", "#999")
      .attr("stroke-dasharray", "8,3,2,3");
    drawLine(st.plot, sto14D, st.y, "#f19a9a", 1);
    drawLine(st.plot, sto14K, st.y, "#a4a4a4", 1.6);
    drawLine(st.plot, sto39, st.y, "#000", 1.8);
    const stl = st.g.append("g");
    legend(
      stl,
      573.5,
      [
        [`Slow STO %K(39) %D(1) ${sto39[sto39.length - 1][1].toFixed(2)}, `, "#000"],
        [`${sto39[sto39.length - 1][1].toFixed(2)}`, "#ee0000"],
      ],
      "#000",
      9.6
    );
    legend(
      stl,
      584.5,
      [
        [`Slow STO %K(14) %D(3) ${sto14K[sto14K.length - 1][1].toFixed(2)}, `, "#000"],
        [`${sto14D[sto14D.length - 1][1].toFixed(2)}`, "#ee0000"],
      ],
      "#000",
      9.6
    );
    const sb = (stl.node() as SVGGElement).getBBox();
    stl
      .insert("rect", ":first-child")
      .attr("x", LEFT + 1)
      .attr("y", st.top + 1)
      .attr("width", sb.x + sb.width - LEFT + 2)
      .attr("height", sb.y + sb.height - st.top + 1)
      .attr("fill", "#fff");
    yTicks(st, stoTicks, (v) => `${v}`);
    border(st);

    // ---------- ratio ----------
    const ra = makePanel("ratio", 642, 733, [0.2555, 0.3644]);
    drawLine(ra.plot, ratioEma, ra.y, "#1f24a8", 1.1, d3.curveMonotoneX);
    drawLine(ra.plot, ratio, ra.y, "#c4c4c4", 3);
    drawLine(ra.plot, ratio, ra.y, "#000", 1.6);
    legend(ra.g, 652, [[`$SOX:$NDX ${ratio[ratio.length - 1][1].toFixed(3)}`, "#000"]], "#000", 10.4, 0.4);
    legend(ra.g, 663.5, [[`EMA(20) ${ratioEma[ratioEma.length - 1][1].toFixed(3)}`, "#1f24a8"]], "#1f24a8", 8.8);
    yTicks(ra, ratioTicks, (v) => v.toFixed(3));
    border(ra);

    // ---------- signal markers ----------
    signalBars.forEach((b, k) => {
      svg
        .append("line")
        .attr("x1", x(b))
        .attr("x2", x(b))
        .attr("y1", 29)
        .attr("y2", 750)
        .attr("stroke", "#17801a")
        .attr("stroke-width", k === 0 ? 1.1 : 2.6)
        .attr("stroke-dasharray", k === 0 ? "5,3" : "6,3");
    });
    upArrow(svg, x(104.9), macd.y(-100));
    upArrow(svg, x(102.7), cc.y(-141));
    upArrow(svg, x(106.4), ad.y(19.8));
    upArrow(svg, x(103.8), st.y(49.7));
    upArrow(svg, x(101.6), ra.y(0.3153));
  }, []);

  return <svg ref={ref} width={620} height={750} style={{ display: "block", background: "#fff" }}></svg>;
};

export default App;
